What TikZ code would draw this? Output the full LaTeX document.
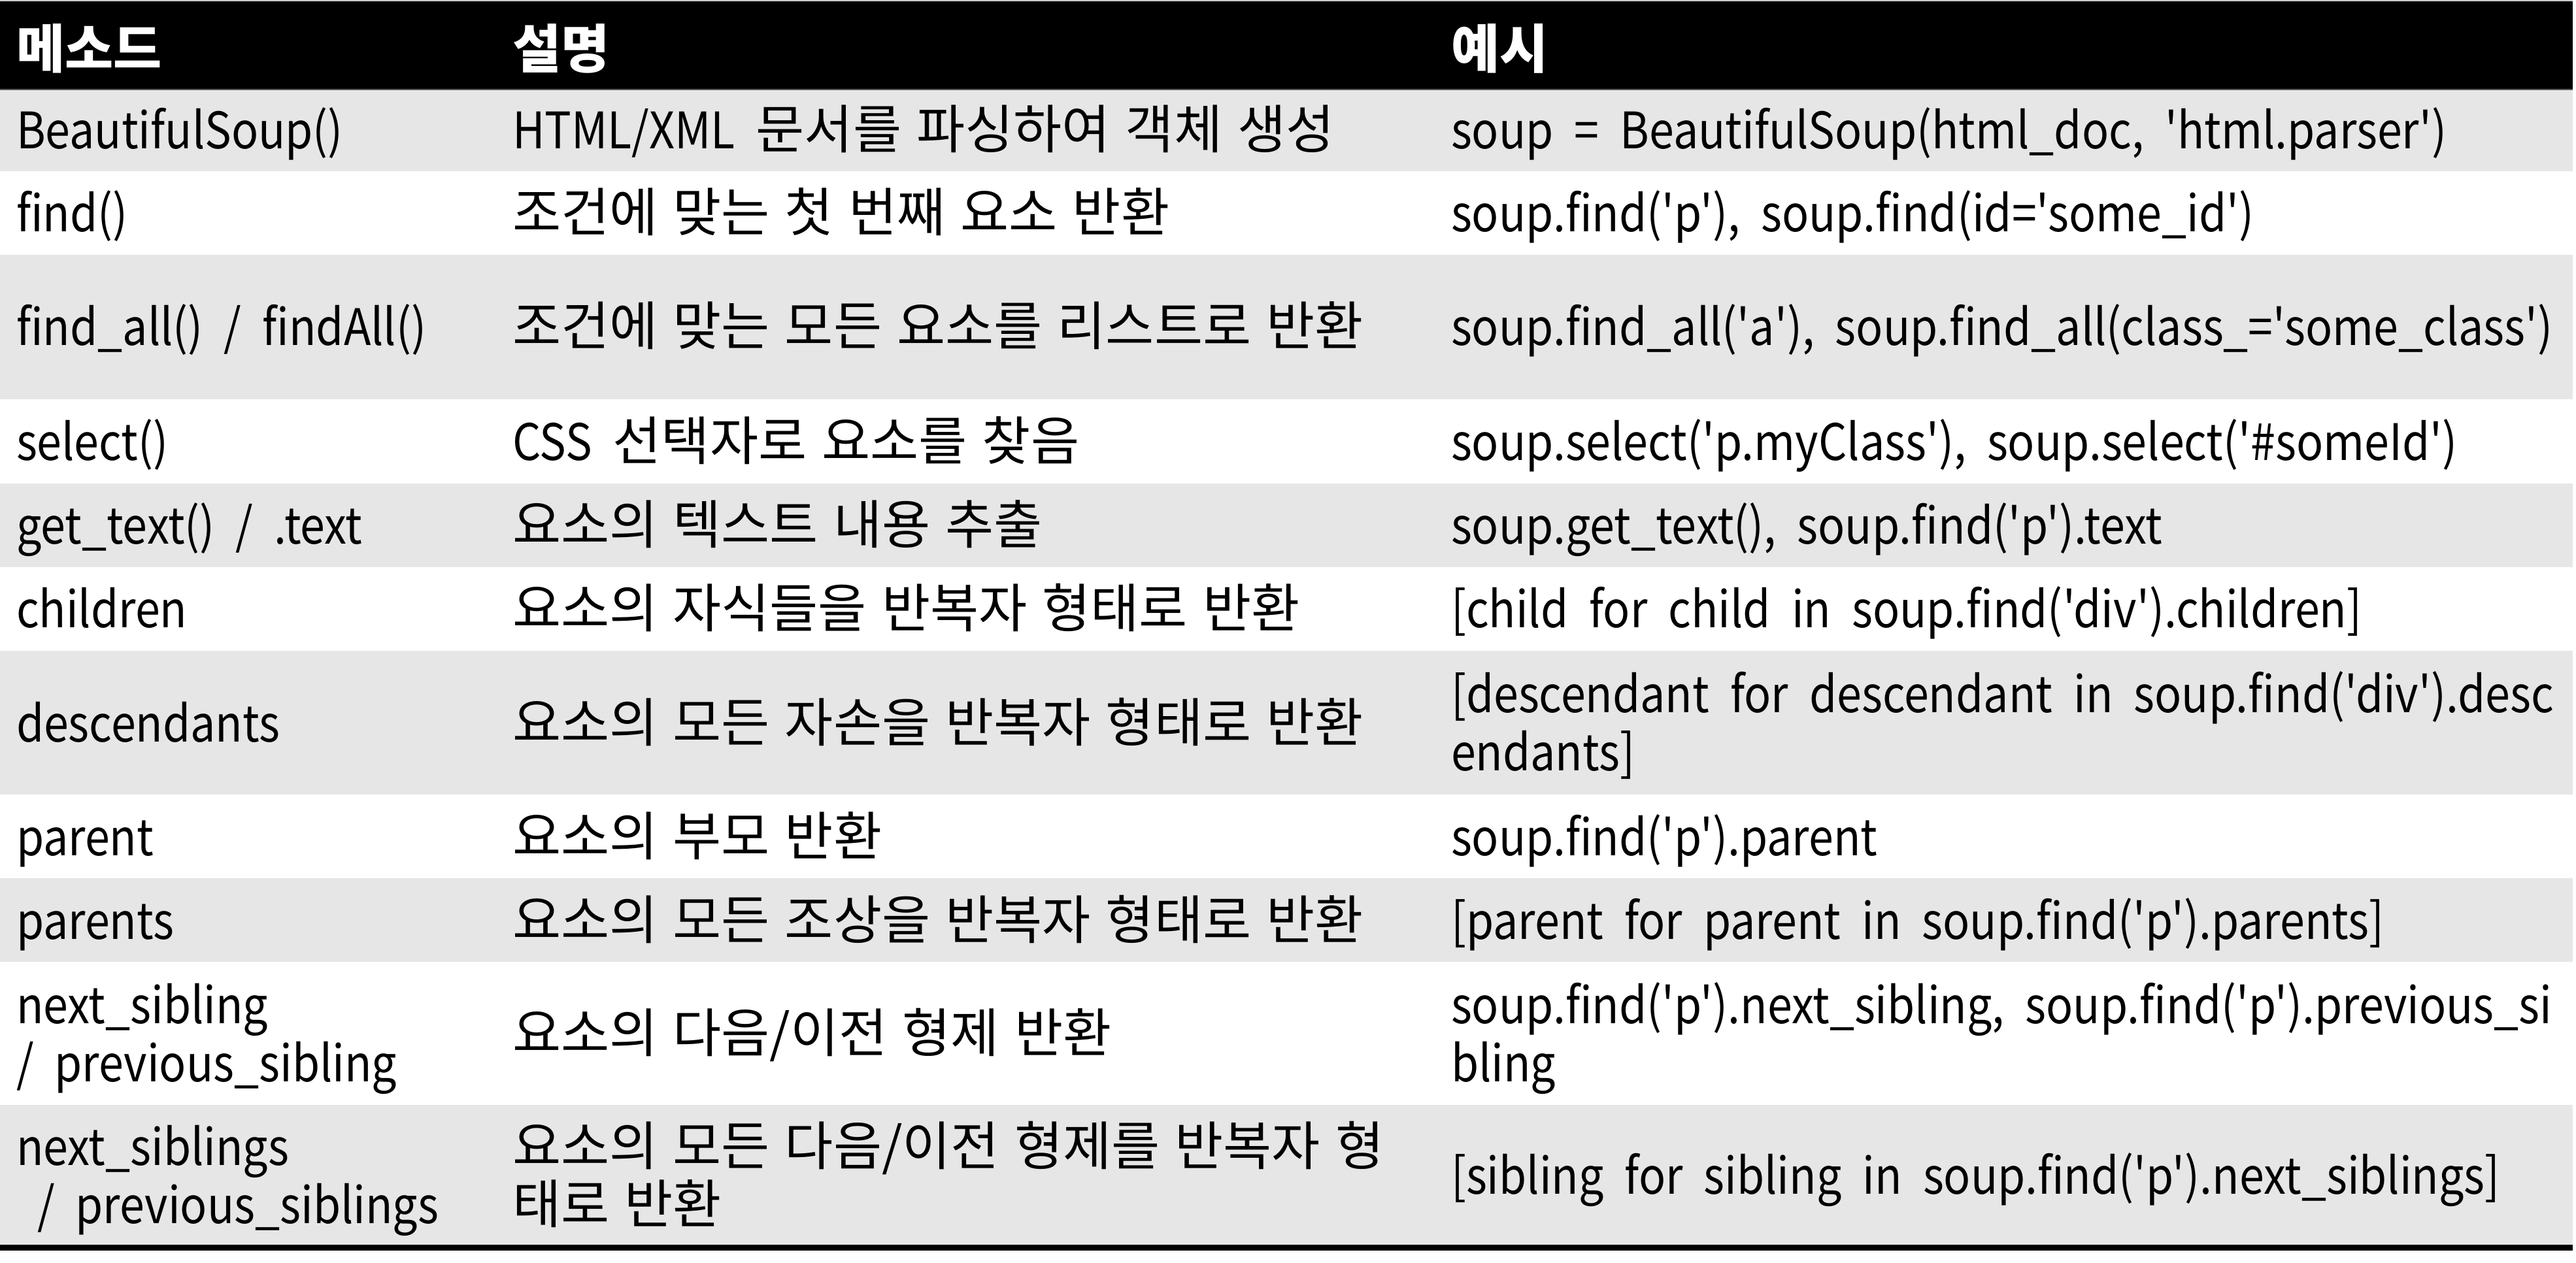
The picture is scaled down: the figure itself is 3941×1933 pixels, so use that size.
\documentclass[tikz,border=0pt]{standalone}
\usepackage{fontspec}
\setmainfont{Noto Sans CJK KR}[Ligatures={TeXOff,CommonOff},FakeStretch=0.885,WordSpace=2.1]
\newfontfamily\krfont{Noto Sans CJK KR}[Scale=1.047,WordSpace=1.28,Ligatures={TeXOff,CommonOff}]
\newcommand\ko[1]{{\krfont #1}}
\definecolor{rowgray}{RGB}{231,230,230}
\tikzset{
  cell/.style={anchor=base west, inner sep=0pt, outer sep=0pt, font=\fontsize{21.9pt}{26pt}\selectfont},
  headcell/.style={cell, text=white, font=\fontsize{21.9pt}{26pt}\selectfont\krfont\bfseries},
  grayrow/.style={fill=rowgray},
}
\begin{document}
\begin{tikzpicture}[x=0.1mm,y=-0.1mm]
\useasboundingbox (0,0) rectangle (3941,1933);
\fill[white] (0,0) rectangle (3941,1933);
% header
\fill[black] (0,0) rectangle (3936,138);
\fill[gray!40] (0,0) rectangle (3936,2);
\fill[gray!70!black] (0,136) rectangle (3936,138);
% gray rows
\fill[grayrow] (0,138) rectangle (3936,262);
\fill[grayrow] (0,390) rectangle (3936,611);
\fill[grayrow] (0,740) rectangle (3936,868);
\fill[grayrow] (0,996) rectangle (3936,1216);
\fill[grayrow] (0,1344) rectangle (3936,1472);
\fill[grayrow] (0,1691) rectangle (3936,1905);
% bottom rule
\fill[black] (0,1905) rectangle (3936,1914);

% header texts
\node[headcell] (h1) at (25,105) {메소드};
\node[headcell] (h2) at (784,105) {설명};
\node[headcell] (h3) at (2220,105) {예시};

% row 1
\node[cell] (r1a) at (25,228) {BeautifulSoup()};
\node[cell] (r1b) at (784,228) {HTML/XML \ko{문서를 파싱하여 객체 생성}};
\node[cell] (r1c) at (2220,228) {soup = BeautifulSoup(html\_doc, 'html.parser')};
% row 2
\node[cell] (r2a) at (25,355) {find()};
\node[cell] (r2b) at (784,355) {\ko{조건에 맞는 첫 번째 요소 반환}};
\node[cell] (r2c) at (2220,355) {soup.find('p'), soup.find(id='some\_id')};
% row 3
\node[cell] (r3a) at (25,529) {find\_all() / findAll()};
\node[cell] (r3b) at (784,529) {\ko{조건에 맞는 모든 요소를 리스트로 반환}};
\node[cell] (r3c) at (2220,529) {soup.find\_all('a'), soup.find\_all(class\_='some\_class')};
% row 4
\node[cell] (r4a) at (25,704.5) {select()};
\node[cell] (r4b) at (784,704.5) {CSS \ko{선택자로 요소를 찾음}};
\node[cell] (r4c) at (2220,704.5) {soup.select('p.myClass'), soup.select('\#someId')};
% row 5
\node[cell] (r5a) at (25,833) {get\_text() / .text};
\node[cell] (r5b) at (784,833) {\ko{요소의 텍스트 내용 추출}};
\node[cell] (r5c) at (2220,833) {soup.get\_text(), soup.find('p').text};
% row 6
\node[cell] (r6a) at (25,961) {children};
\node[cell] (r6b) at (784,961) {\ko{요소의 자식들을 반복자 형태로 반환}};
\node[cell] (r6c) at (2220,961) {[child for child in soup.find('div').children]};
% row 7
\node[cell] (r7a) at (25,1135) {descendants};
\node[cell] (r7b) at (784,1135) {\ko{요소의 모든 자손을 반복자 형태로 반환}};
\node[cell] (r7c) at (2220,1090) {[descendant for descendant in soup.find('div').desc};
\node[cell] (r7d) at (2220,1179) {endants]};
% row 8
\node[cell] (r8a) at (25,1309) {parent};
\node[cell] (r8b) at (784,1309) {\ko{요소의 부모 반환}};
\node[cell] (r8c) at (2220,1309) {soup.find('p').parent};
% row 9
\node[cell] (r9a) at (25,1437) {parents};
\node[cell] (r9b) at (784,1437) {\ko{요소의 모든 조상을 반복자 형태로 반환}};
\node[cell] (r9c) at (2220,1437) {[parent for parent in soup.find('p').parents]};
% row 10
\node[cell] (r10a) at (25,1566) {next\_sibling};
\node[cell] (r10e) at (25,1655) {/ previous\_sibling};
\node[cell] (r10b) at (784,1610.5) {\ko{요소의 다음/이전 형제 반환}};
\node[cell] (r10c) at (2220,1566) {soup.find('p').next\_sibling, soup.find('p').previous\_si};
\node[cell] (r10d) at (2220,1655) {bling};
% row 11
\node[cell] (r11a) at (25,1783) {next\_siblings};
\node[cell] (r11e) at (25,1872) {\ / previous\_siblings};
\node[cell] (r11b) at (784,1783) {\ko{요소의 모든 다음/이전 형제를 반복자 형}};
\node[cell] (r11d) at (784,1872) {\ko{태로 반환}};
\node[cell] (r11c) at (2220,1827) {[sibling for sibling in soup.find('p').next\_siblings]};
\end{tikzpicture}
\end{document}
